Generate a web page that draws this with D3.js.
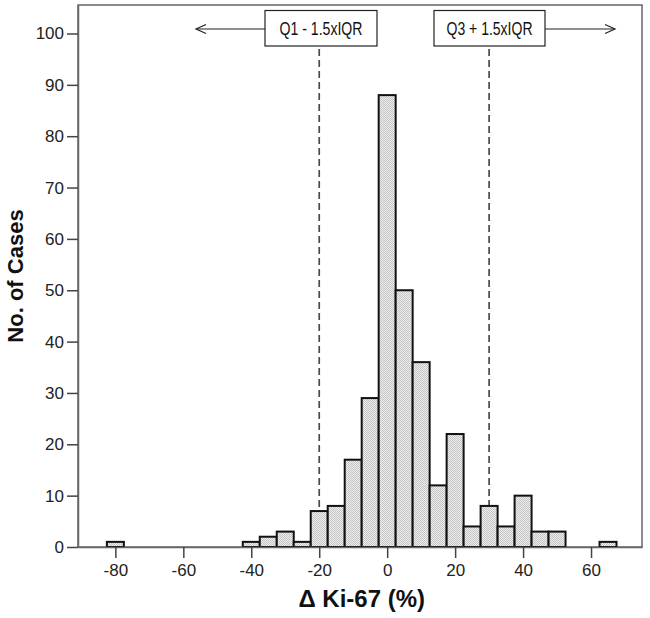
<!DOCTYPE html>
<html>
<head>
<meta charset="utf-8">
<script src="https://cdn.jsdelivr.net/npm/d3@7"></script>
<style>
    body { margin: 0; background: #fff; }
    svg { display: block; }
</style>
</head>
<body>
<div id="chart"></div>
<script>
// Histogram bins (centre of each 5-unit bin) and case counts.
var bin_centers = [-80, -40, -35, -30, -25, -20, -15, -10, -5, 0, 5, 10, 15, 20, 25, 30, 35, 40, 45, 50, 65];
var counts = [1, 1, 2, 3, 1, 7, 8, 17, 29, 88, 50, 36, 12, 22, 4, 8, 4, 10, 3, 3, 1];
var bin_width = 5;

var x_ticks = [-80, -60, -40, -20, 0, 20, 40, 60];
var y_ticks = [0, 10, 20, 30, 40, 50, 60, 70, 80, 90, 100];

// Cut-off lines and their labels.
var cutoffs = [-20, 30];
var cutoff_labels = ['Q1 - 1.5xIQR', 'Q3 + 1.5xIQR'];

(function () {
    var width = 650,
        height = 618,
        m_left = 78,
        m_top = 5,
        m_right = 642,
        m_bottom = 547,
        font = 'Arial, "Liberation Sans", sans-serif';

    var svg = d3.select('#chart').append('svg')
        .attr('width', width)
        .attr('height', height);

    // Stippled bar fill.
    var pattern = svg.append('defs').append('pattern')
        .attr('id', 'stipple')
        .attr('patternUnits', 'userSpaceOnUse')
        .attr('width', 2)
        .attr('height', 2);
    pattern.append('rect').attr('width', 2).attr('height', 2).attr('fill', '#eeeeee');
    pattern.append('rect').attr('width', 1).attr('height', 1).attr('fill', '#c4c4c4');
    pattern.append('rect').attr('x', 1).attr('y', 1).attr('width', 1).attr('height', 1).attr('fill', '#c4c4c4');

    var x = d3.scaleLinear().domain([-91, 75]).range([m_left, m_right]);
    var y = d3.scaleLinear().domain([0, 105.55]).range([m_bottom, m_top]);

    // Frame.
    svg.append('rect')
        .attr('x', m_left)
        .attr('y', m_top)
        .attr('width', m_right - m_left)
        .attr('height', m_bottom - m_top)
        .attr('fill', 'none')
        .attr('stroke', '#666')
        .attr('stroke-width', 1.5);

    // Dashed cut-off lines.
    svg.selectAll('line.cutoff')
        .data(cutoffs)
        .enter().append('line')
        .attr('class', 'cutoff')
        .attr('x1', function (d) { return x(d); })
        .attr('x2', function (d) { return x(d); })
        .attr('y1', 49)
        .attr('y2', m_bottom)
        .attr('stroke', '#4a4a4a')
        .attr('stroke-width', 1.7)
        .attr('stroke-dasharray', '7,4');

    // Bars.
    svg.selectAll('rect.bar')
        .data(bin_centers)
        .enter().append('rect')
        .attr('class', 'bar')
        .attr('x', function (d) { return x(d - bin_width / 2); })
        .attr('y', function (d, i) { return y(counts[i]); })
        .attr('width', function (d) { return x(d + bin_width / 2) - x(d - bin_width / 2); })
        .attr('height', function (d, i) { return y(0) - y(counts[i]); })
        .attr('fill', 'url(#stipple)')
        .attr('stroke', '#111')
        .attr('stroke-width', 2);

    // Axes (plain hyphen for negatives, as in the original).
    var fmt = function (d) { return String(d); };
    var x_axis = d3.axisBottom(x).tickValues(x_ticks).tickFormat(fmt)
        .tickSizeInner(11).tickSizeOuter(0).tickPadding(6);
    var y_axis = d3.axisLeft(y).tickValues(y_ticks).tickFormat(fmt)
        .tickSizeInner(11).tickSizeOuter(0).tickPadding(3);

    var gx = svg.append('g')
        .attr('transform', 'translate(0,' + m_bottom + ')')
        .call(x_axis);
    var gy = svg.append('g')
        .attr('transform', 'translate(' + m_left + ',0)')
        .call(y_axis);

    [gx, gy].forEach(function (g) {
        g.select('.domain').attr('stroke', '#666').attr('stroke-width', 1.5);
        g.selectAll('.tick line').attr('stroke', '#444').attr('stroke-width', 1.5);
        g.selectAll('.tick text')
            .attr('font-family', font)
            .attr('font-size', '17px')
            .attr('fill', '#222');
    });

    // Axis titles.
    svg.append('text')
        .attr('x', x(-7.5))
        .attr('y', 607)
        .attr('text-anchor', 'middle')
        .attr('font-family', font)
        .attr('font-size', '24px')
        .attr('font-weight', 'bold')
        .attr('fill', '#111')
        .text('\u0394 Ki-67 (%)');

    svg.append('text')
        .attr('transform', 'translate(23,276) rotate(-90)')
        .attr('text-anchor', 'middle')
        .attr('font-family', font)
        .attr('font-size', '22px')
        .attr('font-weight', 'bold')
        .attr('fill', '#111')
        .text('No. of Cases');

    // Annotation boxes with arrows.
    var box_y = 10.5,
        box_h = 35.5,
        arrow_y = 29;
    var boxes = [
        {x0: 265, x1: 377, tip: 196, dir: -1},
        {x0: 434, x1: 545, tip: 615, dir: 1}
    ];

    boxes.forEach(function (b, i) {
        var start = b.dir < 0 ? b.x0 : b.x1;
        svg.append('line')
            .attr('x1', start).attr('x2', b.tip)
            .attr('y1', arrow_y).attr('y2', arrow_y)
            .attr('stroke', '#222').attr('stroke-width', 1.2);
        svg.append('path')
            .attr('d', 'M' + (b.tip - b.dir * 10) + ',' + (arrow_y - 4.5) +
                'L' + b.tip + ',' + arrow_y +
                'L' + (b.tip - b.dir * 10) + ',' + (arrow_y + 4.5))
            .attr('fill', 'none')
            .attr('stroke', '#222').attr('stroke-width', 1.2);
        svg.append('rect')
            .attr('x', b.x0).attr('y', box_y)
            .attr('width', b.x1 - b.x0).attr('height', box_h)
            .attr('fill', '#fff')
            .attr('stroke', '#222').attr('stroke-width', 1.2);
        svg.append('text')
            .attr('x', (b.x0 + b.x1) / 2)
            .attr('y', 35)
            .attr('text-anchor', 'middle')
            .attr('font-family', '"Liberation Sans Narrow", Arial, sans-serif')
            .attr('font-size', '19px')
            .attr('fill', '#111')
            .attr('textLength', i === 0 ? 83 : 86)
            .attr('lengthAdjust', 'spacingAndGlyphs')
            .text(cutoff_labels[i]);
    });
}());
</script>
</body>
</html>
